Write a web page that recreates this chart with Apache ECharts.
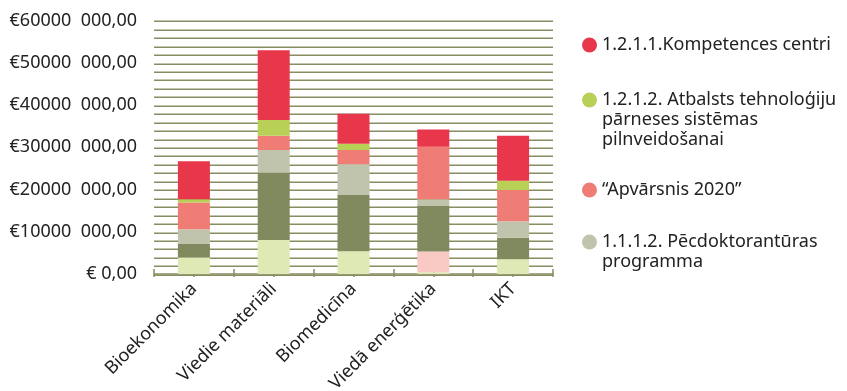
<!DOCTYPE html>
<html>
  <head>
    <meta charset="utf-8">
    <title></title>
    <script src="https://cdn.jsdelivr.net/npm/echarts@6/dist/echarts.min.js"></script>
    <style media="screen">
    html,body{
      height:100%;
      width:100%;
      margin:0px;
      background:#fff;
    }
    #chartDiv{
      width:847px;
      height:391px;
    }
    </style>
  </head>
  <body>
    <div id="chartDiv"></div>
    <script type="text/javascript">
      var categories = ['Bioekonomika', 'Viedie materiāli', 'Biomedicīna', 'Viedā enerģētika', 'IKT'];

      // series, bottom of the stack first
      var valstsProgrammas = [3900000, 8050000, 5400000, 400000, 3500000];
      var inovacijuGranti = [0, 0, 0, 4900000, 0];
      var praktiskiePetijumi = [3200000, 15950000, 13300000, 10800000, 5100000];
      var pecdoktoranturas = [3500000, 5350000, 7300000, 1600000, 3900000];
      var apvarsnis = [6300000, 3400000, 3350000, 12400000, 7400000];
      var tehnologijuParnese = [800000, 3700000, 1500000, 0, 2200000];
      var kompetencesCentri = [9000000, 16500000, 7100000, 4100000, 10600000];

      var yTicks = [0, 10000000, 20000000, 30000000, 40000000, 50000000, 60000000];

      var names = {
        kc: '1.2.1.1.Kompetences centri',
        tp: '1.2.1.2. Atbalsts tehnoloģiju pārneses sistēmas pilnveidošanai',
        ap: '“Apvārsnis 2020”',
        pd: '1.1.1.2. Pēcdoktorantūras programma',
        pp: '1.1.1.1. Praktiskas ievirzes pētījumi',
        ig: '1.1.1.3. Inovāciju granti',
        vp: 'Valsts pētījumu programmas'
      };
      // legend text, wrapped the way the original wraps it
      var legendLines = {};
      legendLines[names.kc] = ['1.2.1.1.Kompetences centri'];
      legendLines[names.tp] = ['1.2.1.2. Atbalsts tehnoloģiju', 'pārneses sistēmas', 'pilnveidošanai'];
      legendLines[names.ap] = ['“Apvārsnis 2020”'];
      legendLines[names.pd] = ['1.1.1.2. Pēcdoktorantūras', 'programma'];

      var olive = '#8a8d62';
      var font = 'Noto Sans';
      var lineH = 20;

      function bar(name, color, data){
        return {
          name: name,
          type: 'bar',
          stack: 'total',
          barWidth: 32,
          itemStyle: {color: color},
          data: data
        };
      }

      // one legend per entry; marker sits on first line, the rest are plain text below
      var legendCenters = [45, 100, 190, 242];
      var legendNames = [names.kc, names.tp, names.ap, names.pd];
      var legends = [];
      var extraText = [];
      legendNames.forEach(function(n, i){
        var lines = legendLines[n];
        legends.push({
          data: [n],
          left: 582,
          top: legendCenters[i] - lineH / 2,
          padding: 0,
          icon: 'circle',
          itemWidth: 15,
          itemHeight: 15,
          itemGap: 0,
          selectedMode: false,
          formatter: function(){ return lines[0]; },
          textStyle: {fontFamily: font, fontSize: 18, lineHeight: lineH, color: '#222'}
        });
        for (var k = 1; k < lines.length; k++) {
          extraText.push({
            type: 'text',
            left: 602,
            top: legendCenters[i] + k * lineH - lineH / 2,
            style: {text: lines[k], font: '18px "Noto Sans"', fill: '#222', lineHeight: lineH}
          });
        }
      });

      var tickCats = ['', '', '', '', '', '', '', '', '', ''];

      var option = {
        animation: false,
        grid: {left: 154, right: 294, top: 20.5, bottom: 117, containLabel: false, outerBoundsMode: 'none'},
        legend: legends,
        graphic: extraText,
        xAxis: [
          {
            type: 'category',
            data: categories,
            axisLine: {lineStyle: {color: olive, width: 1.5}},
            axisTick: {show: false},
            axisLabel: {
              rotate: 45,
              margin: 12,
              interval: 0,
              fontFamily: font,
              fontSize: 18,
              color: '#222'
            }
          },
          {
            type: 'category',
            data: tickCats,
            position: 'bottom',
            axisLine: {show: false},
            axisLabel: {show: false},
            axisTick: {show: true, inside: true, length: 5, lineStyle: {color: olive, width: 1.5}}
          },
          {
            type: 'category',
            data: tickCats,
            position: 'bottom',
            axisLine: {show: false},
            axisLabel: {show: false},
            axisTick: {show: true, length: 3, lineStyle: {color: olive, width: 1.5}}
          }
        ],
        yAxis: {
          type: 'value',
          min: yTicks[0],
          max: yTicks[yTicks.length - 1],
          interval: 10000000,
          axisLine: {show: false},
          axisTick: {show: false},
          axisLabel: {
            margin: 17,
            fontFamily: font,
            fontSize: 18,
            color: '#222',
            formatter: function(v){
              if (v === 0) return '€ 0,00';
              return '€' + (v / 1000) + '  000,00';
            }
          },
          splitLine: {
            show: true,
            lineStyle: {color: '#c3c5ae', width: 1, shadowColor: olive, shadowOffsetY: 1, shadowBlur: 0}
          },
          minorTick: {show: false, splitNumber: 5},
          minorSplitLine: {
            show: true,
            lineStyle: {color: '#c3c5ae', width: 1, shadowColor: olive, shadowOffsetY: 1, shadowBlur: 0}
          }
        },
        series: [
          bar(names.vp, '#dfe9b5', valstsProgrammas),
          bar(names.ig, '#f8cac3', inovacijuGranti),
          bar(names.pp, '#818a5e', praktiskiePetijumi),
          bar(names.pd, '#c0c4ad', pecdoktoranturas),
          bar(names.ap, '#f07d75', apvarsnis),
          bar(names.tp, '#b9d057', tehnologijuParnese),
          bar(names.kc, '#e8364a', kompetencesCentri)
        ]
      };

      var chart = echarts.init(document.getElementById('chartDiv'));
      chart.setOption(option);
    </script>
  </body>
</html>
